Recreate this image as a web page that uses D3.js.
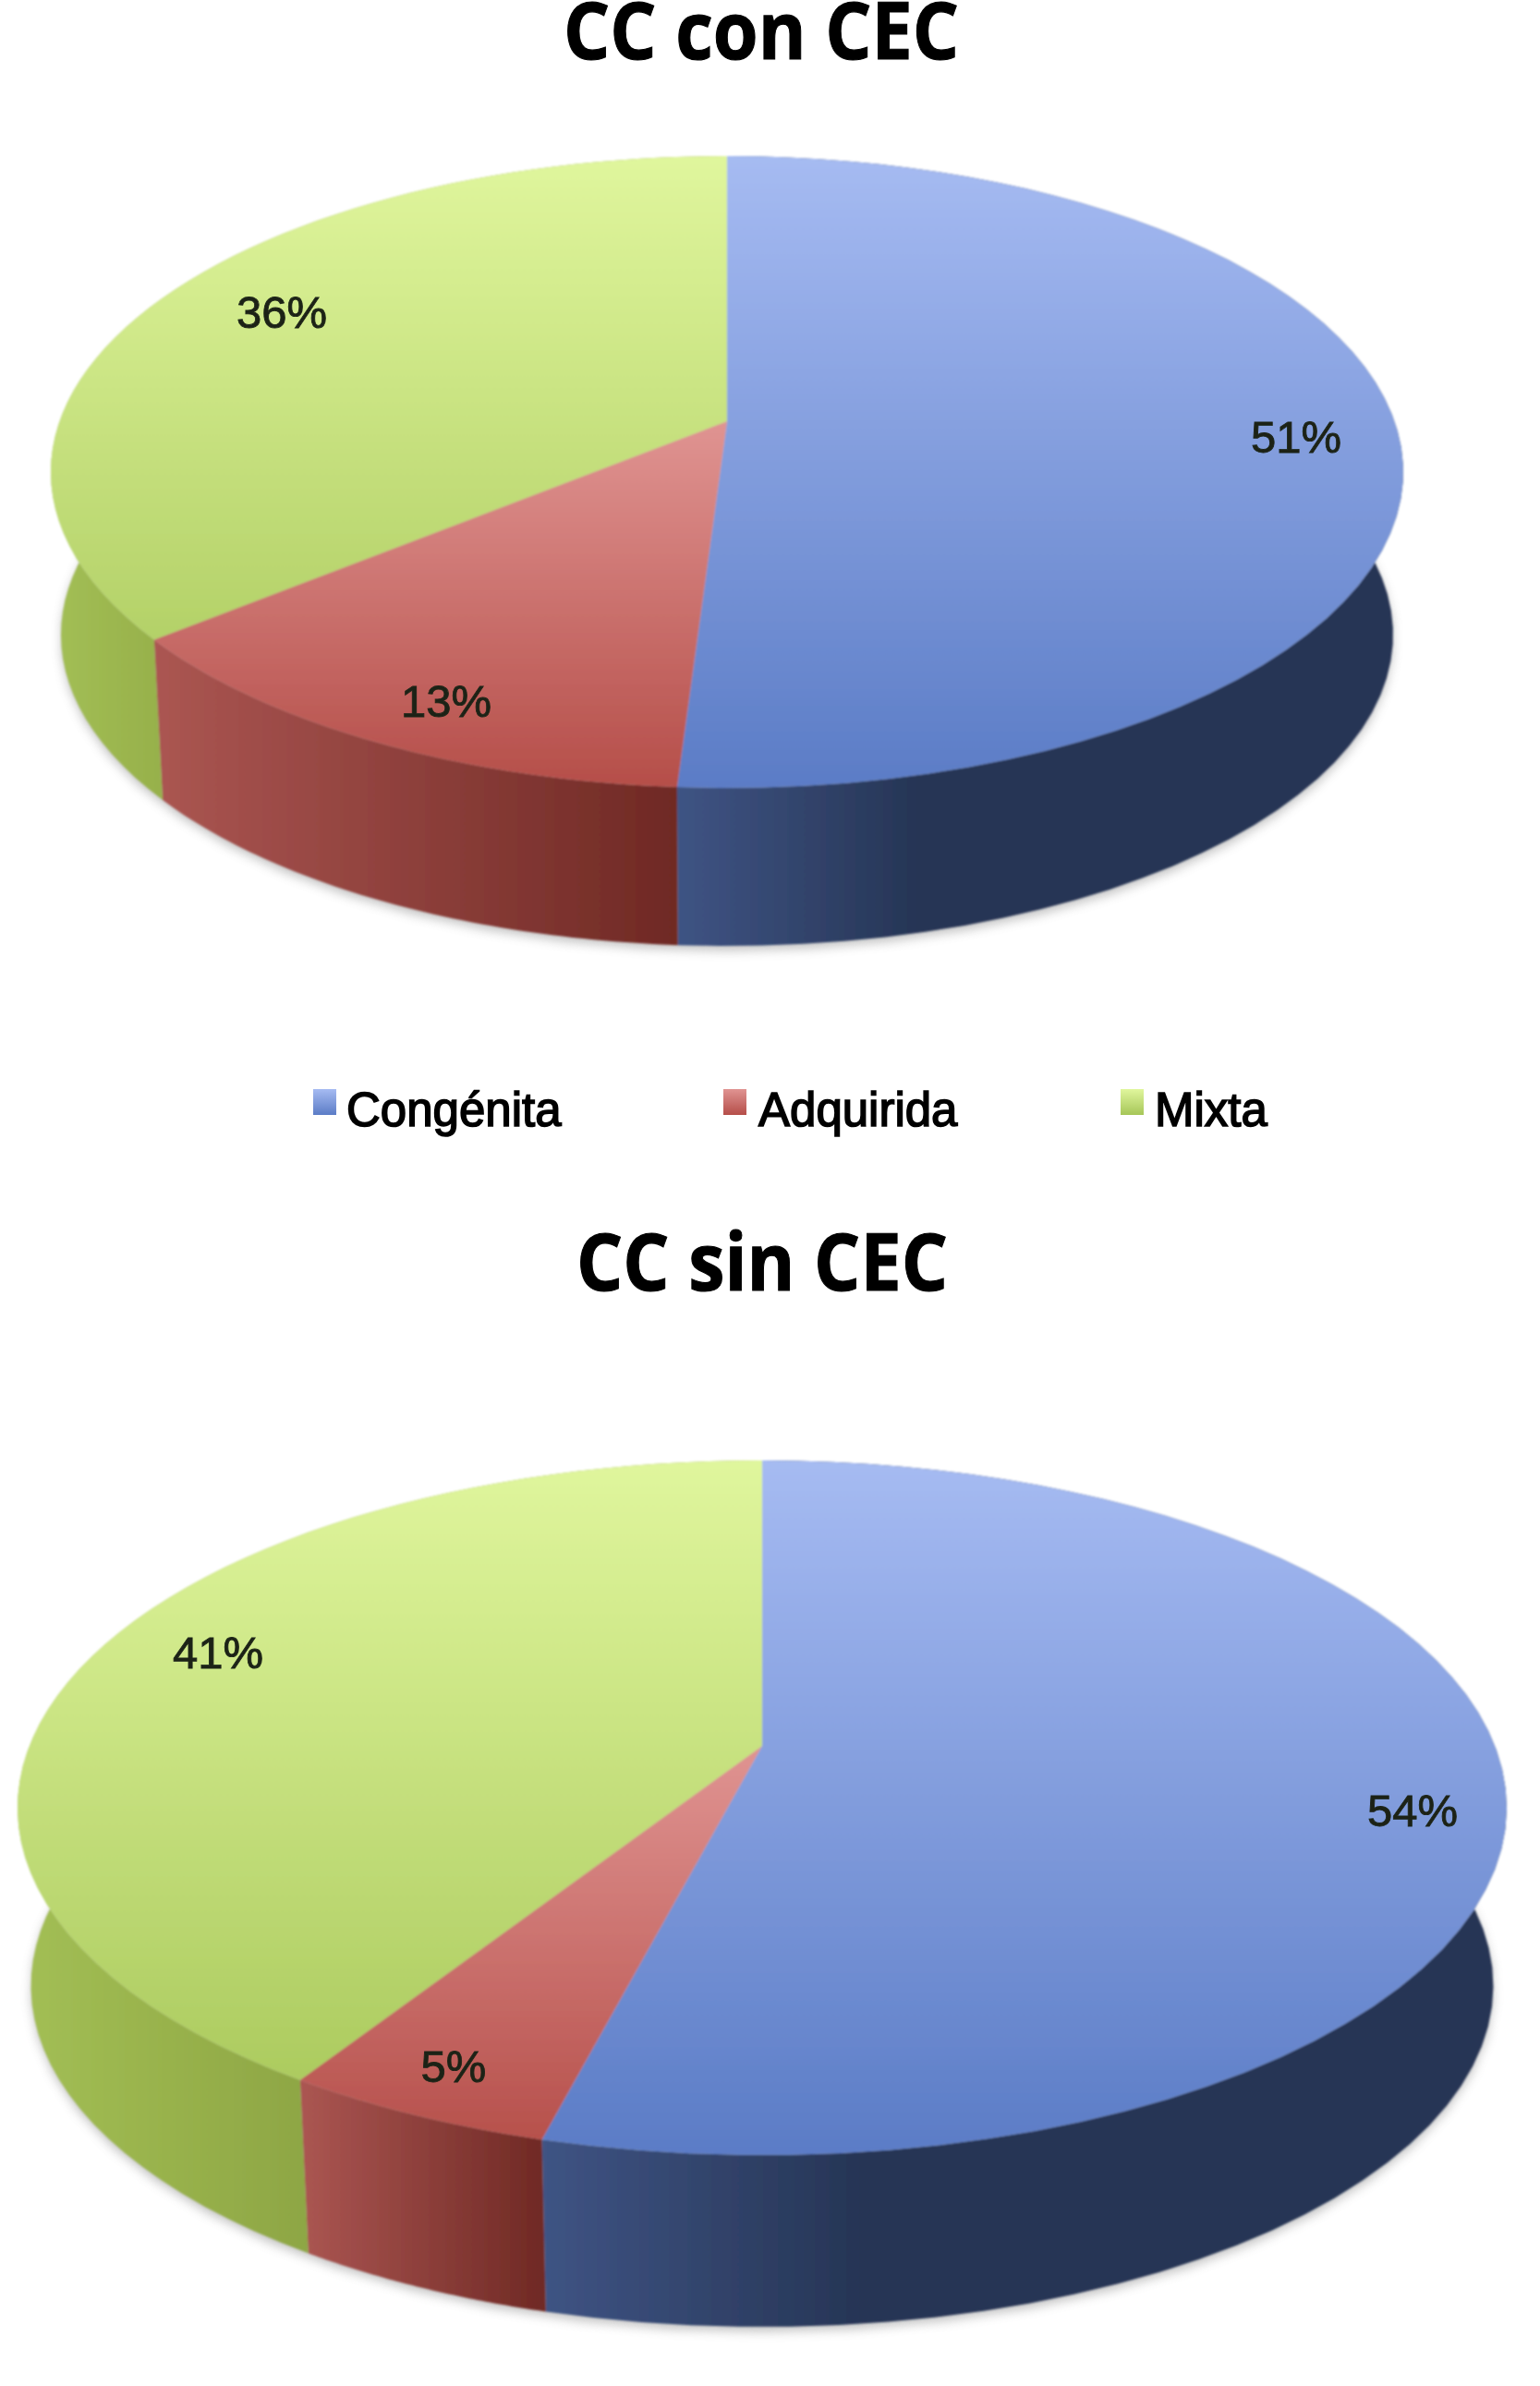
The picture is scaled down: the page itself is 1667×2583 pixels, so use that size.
<!DOCTYPE html>
<html><head><meta charset="utf-8">
<script src="https://cdn.jsdelivr.net/npm/d3@7"></script>
<style>html,body{margin:0;padding:0;background:#fff}svg{display:block}</style>
</head><body><svg id="c" width="1667" height="2583"></svg>
<script>
// Data
const categories = ["Congénita", "Adquirida", "Mixta"];
const titles = ["CC con CEC", "CC sin CEC"];
const valuesCon = [51, 13, 36];
const valuesSin = [54, 5, 41];

// Layout and style
const W = 1667, H = 2583;
const geomCon = {cx:787, apexY:456, topY:169, botY:853, halfW:732, rimDy:177, rimScale:.985, titleY:64, titleX:824,
  labels:[[1403,473],[483,759],[305,338]]};
const geomSin = {cx:825, apexY:1890, topY:1581, botY:2333, halfW:806, rimDy:194, rimScale:.982, titleY:1397, titleX:825,
  labels:[[1529,1960],[491,2237],[236,1789]]};
const legendSwatchX = [339,783,1213];
const legendTextX = [375,821,1250];
const faceStops = [["#a6bbf2","#5b7cc6"],["#e09492","#b54e49"],["#e0f69d","#a6c658"]];
const wallStops = [["#3f5484","#263555"],["#ab5652","#6f2924"],["#a3bf55","#8ea644"]];

const svg = d3.select("#c");
const defs = svg.append("defs");
defs.append("filter").attr("id","soft").attr("x","-5%").attr("y","-5%").attr("width","110%").attr("height","110%")
  .append("feGaussianBlur").attr("stdDeviation",1.3);
defs.append("filter").attr("id","shadow").attr("x","-10%").attr("y","-10%").attr("width","120%").attr("height","120%")
  .append("feGaussianBlur").attr("stdDeviation",6);
defs.append("filter").attr("id","tb").append("feGaussianBlur").attr("stdDeviation",.7);

const pie = d3.pie().sort(null).value(d=>d);
const lineGen = d3.line();

function grad(id, x1,y1,x2,y2, stops){
  const g = defs.append("linearGradient").attr("id",id).attr("gradientUnits","userSpaceOnUse")
    .attr("x1",x1).attr("y1",y1).attr("x2",x2).attr("y2",y2);
  stops.forEach((c,i)=>g.append("stop").attr("offset",i/(stops.length-1)).attr("stop-color",c));
}

function drawPie(values, g, key, title){
  const up = g.apexY-g.topY, down = g.botY-g.apexY;
  const k = (up-down)/(up+down);           // perspective factor
  const a = up*(1-k);
  const c = g.halfW*Math.sqrt(1-k*k);
  const project = (ang, rim) => {
    const u = Math.sin(ang), v = -Math.cos(ang), d = 1+k*v;
    const s = rim ? g.rimScale : 1;
    return [g.cx + s*c*u/d, g.apexY + (rim?g.rimDy:0) + s*a*v/d];
  };
  const arcPts = (a0,a1,rim) => d3.range(0,61).map(i=>project(a0+(a1-a0)*i/60,rim));
  const arcs = pie(values);
  const root = svg.append("g");

  // Ground shadow under the lower rim
  root.append("path")
    .attr("d", lineGen(arcPts(0,2*Math.PI,true).map(p=>[p[0], p[1]+5])) + "Z")
    .attr("fill","#777").attr("opacity",.45).attr("filter","url(#shadow)");

  const marks = root.append("g").attr("filter","url(#soft)");

  // Side walls
  arcs.forEach((d,i)=>{
    const id = key+"w"+i;
    const top = arcPts(d.startAngle,d.endAngle,false);
    const bot = arcPts(d.startAngle,d.endAngle,true);
    const front = top.concat(bot).filter(p=>p[1]>g.apexY);
    const xs = d3.extent(front,p=>p[0]);
    const stops = i===0 ? [wallStops[0][0],wallStops[0][1],wallStops[0][1],wallStops[0][1]] : wallStops[i];
    grad(id, xs[0],0,xs[1],0, stops);
    marks.append("path").attr("d", lineGen(top.concat(bot.reverse()))+"Z")
      .attr("fill",`url(#${id})`);
  });
  // Top faces
  arcs.forEach((d,i)=>{
    const id = key+"f"+i;
    const startY = i===1 ? g.apexY : g.topY;
    grad(id,0,startY,0,g.botY,faceStops[i]);
    const pts = [[g.cx,g.apexY]].concat(arcPts(d.startAngle,d.endAngle,false));
    marks.append("path").attr("d", lineGen(pts)+"Z").attr("fill",`url(#${id})`);
  });
  // Slice labels
  arcs.forEach((d,i)=>{
    root.append("text").attr("x",g.labels[i][0]).attr("y",g.labels[i][1])
      .attr("text-anchor","middle").attr("dominant-baseline","central")
      .attr("font-family","'Liberation Sans',Arial,sans-serif").attr("font-size",49)
      .attr("fill","#1c2416").attr("stroke","#1c2416").attr("stroke-width",.9).attr("filter","url(#tb)")
      .text(d.value+"%");
  });
  // Title
  svg.append("text").attr("transform",`translate(${g.titleX},${g.titleY}) scale(1,1.08)`).attr("text-anchor","middle")
    .attr("font-family","'Open Sans',Lato,sans-serif").attr("font-weight",700).attr("font-size",79)
    .attr("fill","#000").attr("stroke","#000").attr("stroke-width",1).text(title);
}

drawPie(valuesCon, geomCon, "con", titles[0]);
drawPie(valuesSin, geomSin, "sin", titles[1]);

// Legend
const legend = svg.append("g");
categories.forEach((name,i)=>{
  const id = "lg"+i;
  grad(id,0,1179,0,1207,[faceStops[i][0],faceStops[i][1]]);
  legend.append("rect").attr("x",legendSwatchX[i]).attr("y",1179).attr("width",25).attr("height",28)
    .attr("fill",`url(#${id})`).attr("filter","url(#tb)");
  legend.append("text").attr("x",legendTextX[i]).attr("y",1219)
    .attr("font-family","'Liberation Sans',Arial,sans-serif").attr("font-size",51)
    .attr("fill","#000").attr("stroke","#000").attr("stroke-width",1.6).text(name);
});
</script></body></html>
